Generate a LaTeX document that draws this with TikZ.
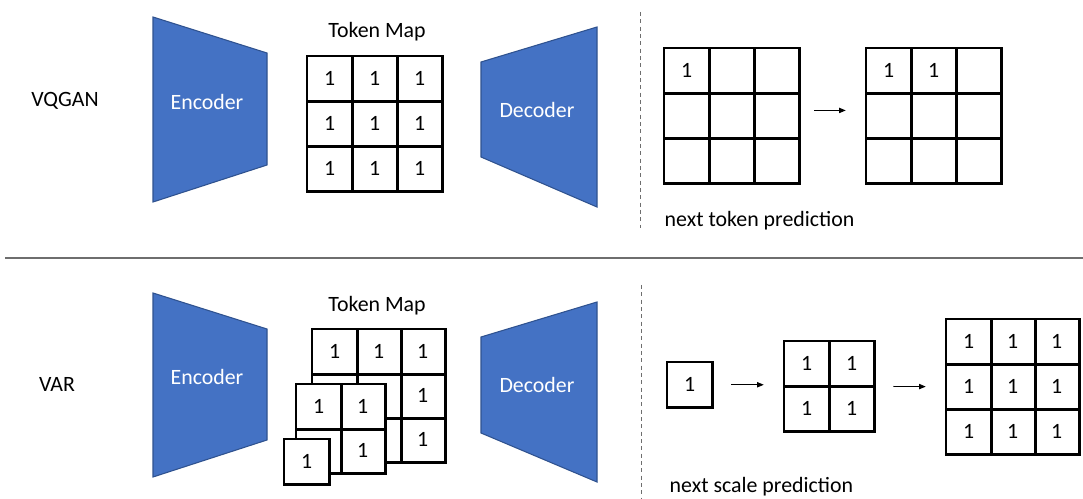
\documentclass[tikz,border=0pt]{standalone}
\usepackage{fontspec}
\setmainfont{Carlito}
\usetikzlibrary{arrows.meta,fit}
\definecolor{blockblue}{HTML}{4472C4}
\definecolor{blockedge}{HTML}{2F528F}
\definecolor{rulegray}{HTML}{6E6E6E}

% outline and inner rules of an n x n token grid whose cells are <prefix>-r-c
\newcommand\tokgridlines[2]{%
  \draw[gridline] (#1-1-1.north west) rectangle (#1-#2-#2.south east);
  \ifnum#2>1
    \pgfmathtruncatemacro\tgLast{#2-1}%
    \foreach \k in {1,...,\tgLast} {
      \draw[gridline] (#1-1-\k.north east) -- (#1-#2-\k.south east);
      \draw[gridline] (#1-\k-1.south west) -- (#1-\k-#2.south east);
    }
  \fi
}

\begin{document}
\begin{tikzpicture}[x=0.75pt,y=-0.75pt,
  txt/.style={font=\fontsize{16.4}{19}\selectfont},
  cellbox/.style={fill=white, minimum size=33.75pt, inner sep=0pt,
    anchor=north west, txt},
  gridline/.style={draw, line width=1.9pt, line cap=rect},
  coder/.style={fill=blockblue, draw=blockedge, line width=0.8pt},
  coderlabel/.style={txt, text=white},
  gridfit/.style={inner sep=0pt},
  steparrow/.style={-{Triangle[length=5pt,width=4pt]}, line width=0.6pt,
    shorten <=14pt, shorten >=15pt},
  divider/.style={draw=rulegray, line width=1.1pt},
  sectionline/.style={draw=rulegray, line width=0.75pt, dash pattern=on 3pt off 2.5pt}
]
\useasboundingbox (0,0) rectangle (1083,499);

% ---------- separators ----------
\draw[divider] (5,258) -- (1083,258);
\draw[sectionline] (640,12) -- (640,228);
\draw[sectionline] (641,285) -- (641,499);

% ---------- VQGAN row ----------
\node[txt] (vqgan) at (65,101) {VQGAN};
\draw[coder] (153,17) -- (267,53) -- (267,165) -- (153,202) -- cycle;
\node[coderlabel] (encA) at (207,102) {Encoder};
\draw[coder] (481,62) -- (597,27) -- (597,207) -- (481,157) -- cycle;
\node[coderlabel] (decA) at (537,110) {Decoder};

\node[txt] (tmA) at (377,32) {Token Map};
\foreach \r in {1,2,3} \foreach \c in {1,2,3}
  \node[cellbox] (ta-\r-\c) at ({307+(\c-1)*45},{56+(\r-1)*45}) {1};
\tokgridlines{ta}{3}

% next token prediction
\foreach \r in {1,2,3} \foreach \c in {1,2,3}
  \node[cellbox] (na-\r-\c) at ({664+(\c-1)*45},{48+(\r-1)*45})
    {\ifnum\r=1 \ifnum\c=1 1\fi\fi};
\tokgridlines{na}{3}
\foreach \r in {1,2,3} \foreach \c in {1,2,3}
  \node[cellbox] (nb-\r-\c) at ({866+(\c-1)*45},{48+(\r-1)*45})
    {\ifnum\r=1 \ifnum\c<3 1\fi\fi};
\tokgridlines{nb}{3}
\node[gridfit, fit=(na-1-1)(na-3-3)] (gridNA) {};
\node[gridfit, fit=(nb-1-1)(nb-3-3)] (gridNB) {};
\draw[steparrow, shorten <=11pt] ([yshift=4pt]gridNA.east) -- ([yshift=4pt]gridNB.west);
\node[txt, anchor=west] (ntp) at (660,221) {next token prediction};

% ---------- VAR row ----------
\node[txt] (var) at (57,384) {VAR};
\draw[coder] (153,293) -- (267,329) -- (267,440) -- (153,477) -- cycle;
\node[coderlabel] (encB) at (207,377) {Encoder};
\draw[coder] (481,337) -- (597,302) -- (597,482) -- (481,433) -- cycle;
\node[coderlabel] (decB) at (537,385) {Decoder};

\node[txt] (tmB) at (377,306) {Token Map};
% stacked multi-scale token maps, coarsest in front
\foreach \r in {1,2,3} \foreach \c in {1,2,3}
  \node[cellbox] (s3-\r-\c) at ({312+(\c-1)*44},{329+(\r-1)*44}) {1};
\tokgridlines{s3}{3}
\foreach \r in {1,2} \foreach \c in {1,2}
  \node[cellbox] (s2-\r-\c) at ({296+(\c-1)*44},{384+(\r-1)*44}) {1};
\tokgridlines{s2}{2}
\node[cellbox] (s1-1-1) at (284,439) {1};
\tokgridlines{s1}{1}

% next scale prediction
\node[cellbox] (p1-1-1) at (667,362) {1};
\tokgridlines{p1}{1}
\foreach \r in {1,2} \foreach \c in {1,2}
  \node[cellbox] (p2-\r-\c) at ({784+(\c-1)*45},{341+(\r-1)*45}) {1};
\tokgridlines{p2}{2}
\foreach \r in {1,2,3} \foreach \c in {1,2,3}
  \node[cellbox] (p3-\r-\c) at ({946+(\c-1)*44},{319+(\r-1)*45}) {1};
\tokgridlines{p3}{3}
\node[gridfit, fit=(p2-1-1)(p2-2-2)] (gridP2) {};
\node[gridfit, fit=(p3-1-1)(p3-3-3)] (gridP3) {};
\draw[steparrow] (p1-1-1.east) -- (p1-1-1.east -| gridP2.west);
\draw[steparrow] (gridP2.east) -- (gridP3.west);
\node[txt, anchor=west] (nsp) at (665,487) {next scale prediction};
\end{tikzpicture}
\end{document}
